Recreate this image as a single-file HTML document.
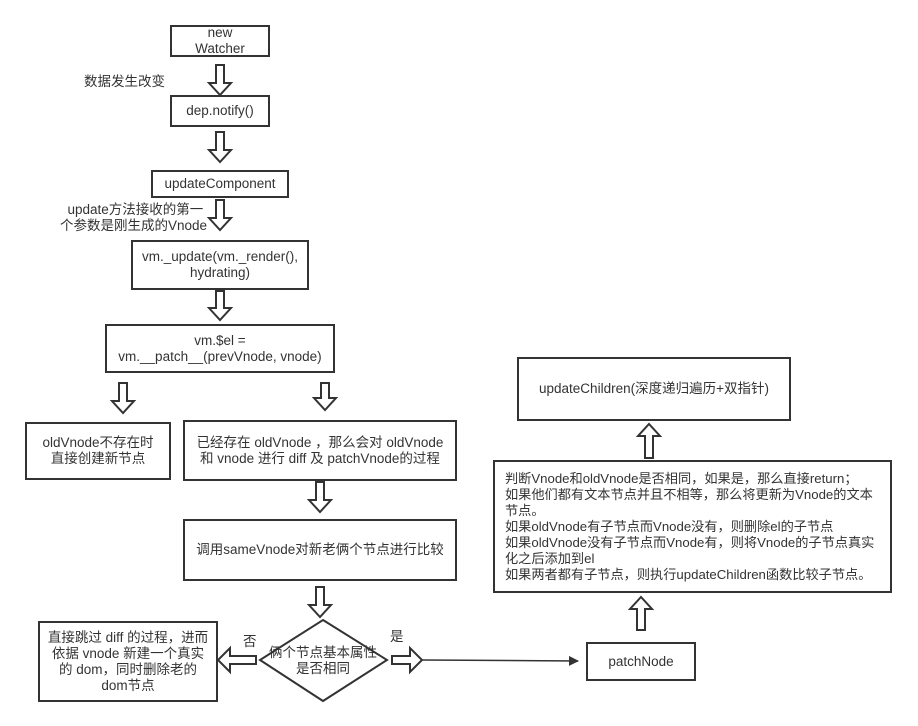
<!DOCTYPE html>
<html><head><meta charset="utf-8"><style>
body{margin:0;background:#fff;width:918px;height:726px;overflow:hidden;font-family:"Liberation Sans","Noto Sans CJK SC",sans-serif;}
svg{position:absolute;left:0;top:0}
.b{position:absolute;border:2px solid #333;box-sizing:border-box;display:flex;align-items:center;justify-content:center;text-align:center;font-size:13.5px;color:#333;line-height:16px;background:#fff}
.t{position:absolute;font-size:13.5px;color:#333;line-height:16px;white-space:nowrap}
</style></head><body>
<svg width="918" height="726">
<defs><marker id="m" markerWidth="10" markerHeight="10" refX="9" refY="5" orient="auto" markerUnits="userSpaceOnUse"><path d="M0,0 L10,5 L0,10 z" fill="#333"/></marker></defs>
<g fill="#fff" stroke="#333" stroke-width="2">
<polygon points="216,65 224,65 224,83 231,83 220,95 209,83 216,83"/>
<polygon points="216,132 224,132 224,150 231,150 220,162 209,150 216,150"/>
<polygon points="216,200 224,200 224,218 231,218 220,230 209,218 216,218"/>
<polygon points="216,291 224,291 224,308 231,308 220,320 209,308 216,308"/>
<polygon points="119,383 127,383 127,401 134,401 123,413 112,401 119,401"/>
<polygon points="321,383 329,383 329,398 336,398 325,410 314,398 321,398"/>
<polygon points="316,482 324,482 324,500 331,500 320,512 309,500 316,500"/>
<polygon points="316,587 324,587 324,605 331,605 320,617 309,605 316,605"/>
<polygon points="645,458 653,458 653,436 660,436 649,424 638,436 645,436"/>
<polygon points="637,630 645,630 645,609 652,609 641,597 630,609 637,609"/>
<polygon points="256,656 256,664 230,664 230,672 218,660 230,648 230,656"/>
<polygon points="392,656 392,664 410,664 410,672 422,660 410,648 410,656"/>
<polygon points="323,620 387,660 323,701 260,660"/>
</g>
<line x1="422" y1="660" x2="578" y2="661" stroke="#333" stroke-width="1.5" marker-end="url(#m)"/>
</svg>
<div class="b" style="left:170px;top:25px;width:100px;height:32px">new<br>Watcher</div>
<div class="t" style="left:84px;top:74px">数据发生改变</div>
<div class="b" style="left:170px;top:95px;width:100px;height:32px">dep.notify()</div>
<div class="b" style="left:151px;top:170px;width:138px;height:28px">updateComponent</div>
<div class="t" style="left:60px;top:202px;text-align:center">&nbsp;update方法接收的第一<br>个参数是刚生成的Vnode</div>
<div class="b" style="left:131px;top:240px;width:178px;height:50px">vm._update(vm._render(),<br>hydrating)</div>
<div class="b" style="left:105px;top:324px;width:230px;height:49px">vm.$el =<br>vm.__patch__(prevVnode, vnode)</div>
<div class="b" style="left:25px;top:422px;width:146px;height:58px">oldVnode不存在时<br>直接创建新节点</div>
<div class="b" style="left:183px;top:420px;width:274px;height:61px">已经存在 oldVnode ，那么会对 oldVnode<br>和 vnode 进行 diff 及 patchVnode的过程</div>
<div class="b" style="left:183px;top:519px;width:274px;height:62px">调用sameVnode对新老俩个节点进行比较</div>
<div class="b" style="left:38px;top:621px;width:180px;height:81px">直接跳过 diff 的过程，进而<br>依据 vnode 新建一个真实<br>的 dom，同时删除老的<br>dom节点</div>
<div class="t" style="left:243px;top:634px">否</div>
<div class="t" style="left:390px;top:629px">是</div>
<div class="t" style="left:268px;top:645px;width:110px;text-align:center;background:transparent">俩个节点基本属性<br>是否相同</div>
<div class="b" style="left:586px;top:642px;width:110px;height:39px">patchNode</div>
<div class="b" style="left:517px;top:357px;width:274px;height:64px">updateChildren(深度递归遍历+双指针)</div>
<div class="b" style="left:493px;top:460px;width:399px;height:133px;justify-content:flex-start;text-align:left;padding-left:10px;font-size:13.2px">判断Vnode和oldVnode是否相同，如果是，那么直接return；<br>如果他们都有文本节点并且不相等，那么将更新为Vnode的文本<br>节点。<br>如果oldVnode有子节点而Vnode没有，则删除el的子节点<br>如果oldVnode没有子节点而Vnode有，则将Vnode的子节点真实<br>化之后添加到el<br>如果两者都有子节点，则执行updateChildren函数比较子节点。</div>
</body></html>
